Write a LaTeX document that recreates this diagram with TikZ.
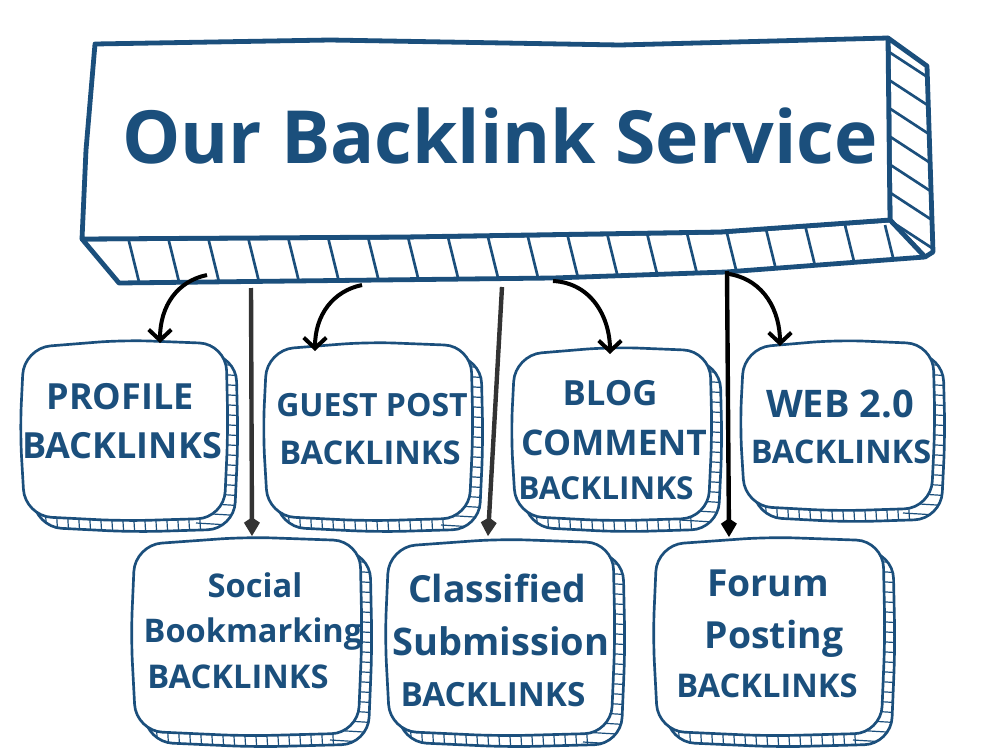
\documentclass[tikz,border=0pt]{standalone}
\usepackage{fontspec}
\setmainfont{Open Sans}
\usetikzlibrary{arrows.meta}
\definecolor{navy}{HTML}{1B4F7C}
\definecolor{arrgray}{HTML}{333333}
\newcommand{\wobpath}[4]{({#1+2},{#2+5}) -- ({(#1+#3)/2},{#2-3}) -- ({#3},{#2+1}) -- ({#3+2},{(#2+#4)/2}) -- ({#3-2},{#4}) -- ({(#1+#3)/2},{#4+3}) -- ({#1+3},{#4-2}) -- ({#1-2},{(#2+#4)/2}) -- cycle}
\newcommand{\rimbox}[4]{%
  \draw[boxline, fill=white, rounded corners=20pt, shift={(10,11)}] \wobpath{#1}{#2}{#3}{#4};
  \begin{scope}
    \clip[rounded corners=20pt, shift={(10,11)}] \wobpath{#1}{#2}{#3}{#4};
    \begin{scope}
      \clip ({#1-20},{#4-40}) rectangle ({#3-18},{#4+30});
      \foreach \hi in {0,...,23} \draw[hatchthin] ({#1+11*\hi},{#4-30}) -- ({#1+11*\hi+3},{#4+20});
    \end{scope}
    \begin{scope}
      \clip ({#3-40},{#2-20}) rectangle ({#3+30},{#4+30});
      \foreach \hi in {0,...,23} \draw[hatchthin] ({#3-30},{#2+10*\hi}) -- ({#3+20},{#2+10*\hi+3});
    \end{scope}
  \end{scope}
  \draw[boxline, fill=white, rounded corners=20pt] \wobpath{#1}{#2}{#3}{#4};
}
\tikzset{
  boxline/.style={draw=navy, line width=2pt},
  hatchthin/.style={draw=navy, line width=0.9pt},
  mainline/.style={draw=navy, line width=3.6pt, line join=round},
  mainhatch/.style={draw=navy, line width=2pt},
  lbl/.style={text=navy, font=\bfseries, anchor=base, inner sep=0pt},
  curv/.style={draw=black, line width=3pt, -{Straight Barb[length=8pt,width=17pt]}},
  strt/.style={line width=3.3pt, -{Kite[length=14pt,width=12pt,inset=4pt]}},
}
\begin{document}
\begin{tikzpicture}[x=0.75pt, y=-0.75pt]
\useasboundingbox (0,0) rectangle (1000,750);
\fill[white] (0,0) rectangle (1000,750);
% ---------- main box ----------
\draw[mainline, fill=white] (888,38) -- (927,66) -- (933,252) -- (925,257) -- (890,220) -- cycle;
\begin{scope}
  \clip (888,38) -- (927,66) -- (933,252) -- (925,257) -- (890,220) -- cycle;
  \foreach \hi in {0,...,7} \draw[mainhatch] (886,{50+28*\hi}) -- (935,{82+28*\hi});
\end{scope}
\draw[mainline, fill=white] (82,239) -- (404,237) -- (720,232) -- (890,220) -- (925,257) -- (726,272) -- (553,278) -- (119,283) -- cycle;
\begin{scope}
  \clip (82,239) -- (404,237) -- (720,232) -- (890,220) -- (925,257) -- (726,272) -- (553,278) -- (119,283) -- cycle;
  \foreach \hi in {0,...,19} \draw[mainhatch] ({125+40*\hi},225) -- ({141+40*\hi},290);
\end{scope}
\draw[mainline, fill=white] (95,44) -- (330,40) -- (620,45) -- (888,38) -- (890,220) -- (720,232) -- (404,237) -- (82,239) -- (86,150) -- cycle;
\node[lbl, font=\bfseries\fontsize{55}{60}\selectfont] (title) at (500,163) {Our Backlink Service};
% ---------- small boxes ----------
\rimbox{22}{343}{226}{518}
\rimbox{265}{345}{471}{518}
\rimbox{513}{350}{710}{518}
\rimbox{742}{343}{933}{508}
\rimbox{133}{540}{360}{733}
\rimbox{387}{542}{613}{733}
\rimbox{655}{540}{883}{733}
% ---------- labels ----------
\node[lbl, font=\bfseries\fontsize{27}{30}\selectfont] (p1) at (120,409) {PROFILE};
\node[lbl, font=\bfseries\fontsize{27}{30}\selectfont] (p2) at (122,458) {BACKLINKS};
\node[lbl, font=\bfseries\fontsize{24}{28}\selectfont] (g1) at (372,416) {GUEST POST};
\node[lbl, font=\bfseries\fontsize{24.5}{28}\selectfont] (g2) at (370,464) {BACKLINKS};
\node[lbl, font=\bfseries\fontsize{26}{30}\selectfont] (b1) at (610,405) {BLOG};
\node[lbl, font=\bfseries\fontsize{26.5}{30}\selectfont] (b2) at (614,455) {COMMENT};
\node[lbl, font=\bfseries\fontsize{23.7}{28}\selectfont] (b3) at (606,499) {BACKLINKS};
\node[lbl, font=\bfseries\fontsize{28.5}{32}\selectfont] (w1) at (840,417) {WEB 2.0};
\node[lbl, font=\bfseries\fontsize{24.4}{28}\selectfont] (w2) at (841,463) {BACKLINKS};
\node[lbl, font=\bfseries\fontsize{24.5}{28}\selectfont] (s1) at (255,597) {Social};
\node[lbl, font=\bfseries\fontsize{24.4}{28}\selectfont] (s2) at (253,642) {Bookmarking};
\node[lbl, font=\bfseries\fontsize{24.5}{28}\selectfont] (s3) at (238,688) {BACKLINKS};
\node[lbl, font=\bfseries\fontsize{28}{32}\selectfont] (c1) at (497,602) {Classified};
\node[lbl, font=\bfseries\fontsize{28.5}{32}\selectfont] (c2) at (501,655) {Submission};
\node[lbl, font=\bfseries\fontsize{25}{28}\selectfont] (c3) at (493,706) {BACKLINKS};
\node[lbl, font=\bfseries\fontsize{28}{32}\selectfont] (f1) at (768,596) {Forum};
\node[lbl, font=\bfseries\fontsize{28}{32}\selectfont] (f2) at (774,648) {Posting};
\node[lbl, font=\bfseries\fontsize{24.5}{28}\selectfont] (f3) at (767,697) {BACKLINKS};
% ---------- connectors ----------
\coordinate (a1s) at (207,275); \coordinate (a1e) at (160,343);
\coordinate (a2s) at (362,285); \coordinate (a2e) at (315,351);
\coordinate (a3s) at (553,281); \coordinate (a3e) at (610,354);
\coordinate (a4s) at (729,274); \coordinate (a4e) at (780,346);
\coordinate (a5s) at (251,288); \coordinate (a5e) at (252,536);
\coordinate (a6s) at (502,287); \coordinate (a6e) at (488,536);
\coordinate (a7s) at (727,271); \coordinate (a7e) at (729,537);
\draw[curv] (a1s) .. controls (178,281) and (160,305) .. (a1e);
\draw[curv] (a2s) .. controls (333,291) and (315,315) .. (a2e);
\draw[curv] (a3s) .. controls (592,283) and (610,318) .. (a3e);
\draw[curv] (a4s) .. controls (765,280) and (780,312) .. (a4e);
\draw[strt, draw=arrgray, fill=arrgray] (a5s) -- (a5e);
\draw[strt, draw=arrgray, fill=arrgray] (a6s) -- (a6e);
\draw[strt, draw=black, fill=black] (a7s) -- (a7e);
\end{tikzpicture}
\end{document}
